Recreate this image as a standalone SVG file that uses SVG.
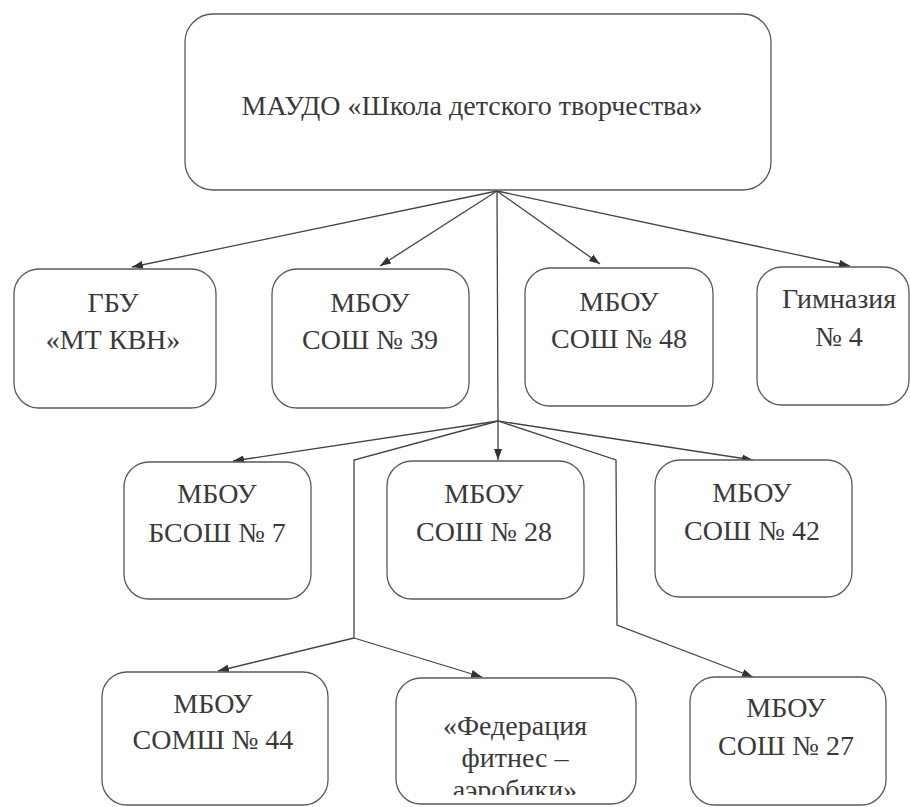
<svg xmlns="http://www.w3.org/2000/svg" width="910" height="807" viewBox="0 0 910 807" xml:lang="ru">
<defs>
<marker id="arr" viewBox="0 0 11 8" refX="11" refY="4" markerWidth="11" markerHeight="8" orient="auto" markerUnits="userSpaceOnUse">
<path d="M0,0 L11,4 L0,8 z" fill="#333"/>
</marker>
<clipPath id="fedclip"><rect x="396" y="678" width="240" height="117"/></clipPath>
</defs>
<rect width="910" height="807" fill="#fff"/>
<g id="connectors" fill="none" stroke="#444" stroke-width="1.3">
<path d="M497,191 L132,267" marker-end="url(#arr)"/>
<path d="M497,191 L380,266" marker-end="url(#arr)"/>
<path d="M497,191 L600,264" marker-end="url(#arr)"/>
<path d="M497,191 L850,266" marker-end="url(#arr)"/>
<path d="M497,191 L498,421"/>
<path d="M498,421 L233,461" marker-end="url(#arr)"/>
<path d="M498,421 L498,460" marker-end="url(#arr)"/>
<path d="M498,421 L753,460" marker-end="url(#arr)"/>
<path d="M498,421 L354,460 L354,638"/>
<path d="M354,638 L218,671" marker-end="url(#arr)"/>
<path d="M354,638 L482,677" marker-end="url(#arr)"/>
<path d="M498,421 L616,460 L617,625 L753,677" marker-end="url(#arr)"/>
</g>
<g id="n-root">
<rect x="185" y="14" width="586" height="176" rx="28" fill="#fff" stroke="#5a5a5a" stroke-width="1.3"/>
<text x="472" y="115" font-family="'Liberation Serif', 'DejaVu Serif', serif" font-size="28" fill="#3a3a3a" text-anchor="middle">МАУДО «Школа детского творчества»</text>
</g>
<g id="n-gbu">
<rect x="14" y="269" width="202" height="139" rx="25" fill="#fff" stroke="#5a5a5a" stroke-width="1.3"/>
<text x="113" y="312" font-family="'Liberation Serif', 'DejaVu Serif', serif" font-size="28" fill="#3a3a3a" text-anchor="middle">ГБУ</text>
<text x="113" y="349" font-family="'Liberation Serif', 'DejaVu Serif', serif" font-size="28" fill="#3a3a3a" text-anchor="middle">«МТ КВН»</text>
</g>
<g id="n-sosh39">
<rect x="272" y="269" width="197" height="139" rx="25" fill="#fff" stroke="#5a5a5a" stroke-width="1.3"/>
<text x="370" y="312" font-family="'Liberation Serif', 'DejaVu Serif', serif" font-size="28" fill="#3a3a3a" text-anchor="middle">МБОУ</text>
<text x="370" y="349" font-family="'Liberation Serif', 'DejaVu Serif', serif" font-size="28" fill="#3a3a3a" text-anchor="middle">СОШ № 39</text>
</g>
<g id="n-sosh48">
<rect x="525" y="268" width="188" height="138" rx="25" fill="#fff" stroke="#5a5a5a" stroke-width="1.3"/>
<text x="619" y="311" font-family="'Liberation Serif', 'DejaVu Serif', serif" font-size="28" fill="#3a3a3a" text-anchor="middle">МБОУ</text>
<text x="619" y="348" font-family="'Liberation Serif', 'DejaVu Serif', serif" font-size="28" fill="#3a3a3a" text-anchor="middle">СОШ № 48</text>
</g>
<g id="n-gymn4">
<rect x="757" y="267" width="152" height="138" rx="25" fill="#fff" stroke="#5a5a5a" stroke-width="1.3"/>
<text x="839" y="308" font-family="'Liberation Serif', 'DejaVu Serif', serif" font-size="28" fill="#3a3a3a" text-anchor="middle">Гимназия</text>
<text x="839" y="346" font-family="'Liberation Serif', 'DejaVu Serif', serif" font-size="28" fill="#3a3a3a" text-anchor="middle">№ 4</text>
</g>
<g id="n-bsosh7">
<rect x="124" y="462" width="187" height="137" rx="25" fill="#fff" stroke="#5a5a5a" stroke-width="1.3"/>
<text x="217" y="503" font-family="'Liberation Serif', 'DejaVu Serif', serif" font-size="28" fill="#3a3a3a" text-anchor="middle">МБОУ</text>
<text x="217" y="542" font-family="'Liberation Serif', 'DejaVu Serif', serif" font-size="28" fill="#3a3a3a" text-anchor="middle">БСОШ № 7</text>
</g>
<g id="n-sosh28">
<rect x="387" y="461" width="197" height="138" rx="25" fill="#fff" stroke="#5a5a5a" stroke-width="1.3"/>
<text x="484" y="503" font-family="'Liberation Serif', 'DejaVu Serif', serif" font-size="28" fill="#3a3a3a" text-anchor="middle">МБОУ</text>
<text x="484" y="541" font-family="'Liberation Serif', 'DejaVu Serif', serif" font-size="28" fill="#3a3a3a" text-anchor="middle">СОШ № 28</text>
</g>
<g id="n-sosh42">
<rect x="655" y="460" width="197" height="137" rx="25" fill="#fff" stroke="#5a5a5a" stroke-width="1.3"/>
<text x="752" y="502" font-family="'Liberation Serif', 'DejaVu Serif', serif" font-size="28" fill="#3a3a3a" text-anchor="middle">МБОУ</text>
<text x="752" y="540" font-family="'Liberation Serif', 'DejaVu Serif', serif" font-size="28" fill="#3a3a3a" text-anchor="middle">СОШ № 42</text>
</g>
<g id="n-somsh44">
<rect x="102" y="672" width="226" height="133" rx="25" fill="#fff" stroke="#5a5a5a" stroke-width="1.3"/>
<text x="213" y="713" font-family="'Liberation Serif', 'DejaVu Serif', serif" font-size="28" fill="#3a3a3a" text-anchor="middle">МБОУ</text>
<text x="213" y="749" font-family="'Liberation Serif', 'DejaVu Serif', serif" font-size="28" fill="#3a3a3a" text-anchor="middle">СОМШ № 44</text>
</g>
<g id="n-fed">
<rect x="396" y="678" width="240" height="126" rx="25" fill="#fff" stroke="#5a5a5a" stroke-width="1.3"/>
<text x="515" y="735" font-family="'Liberation Serif', 'DejaVu Serif', serif" font-size="28" fill="#3a3a3a" text-anchor="middle">«Федерация</text>
<text x="515" y="767" font-family="'Liberation Serif', 'DejaVu Serif', serif" font-size="28" fill="#3a3a3a" text-anchor="middle">фитнес –</text>
<text x="515" y="799" font-family="'Liberation Serif', 'DejaVu Serif', serif" font-size="28" fill="#3a3a3a" text-anchor="middle" clip-path="url(#fedclip)">аэробики»</text>
</g>
<g id="n-sosh27">
<rect x="690" y="677" width="196" height="128" rx="25" fill="#fff" stroke="#5a5a5a" stroke-width="1.3"/>
<text x="786" y="717" font-family="'Liberation Serif', 'DejaVu Serif', serif" font-size="28" fill="#3a3a3a" text-anchor="middle">МБОУ</text>
<text x="786" y="755" font-family="'Liberation Serif', 'DejaVu Serif', serif" font-size="28" fill="#3a3a3a" text-anchor="middle">СОШ № 27</text>
</g>
</svg>
